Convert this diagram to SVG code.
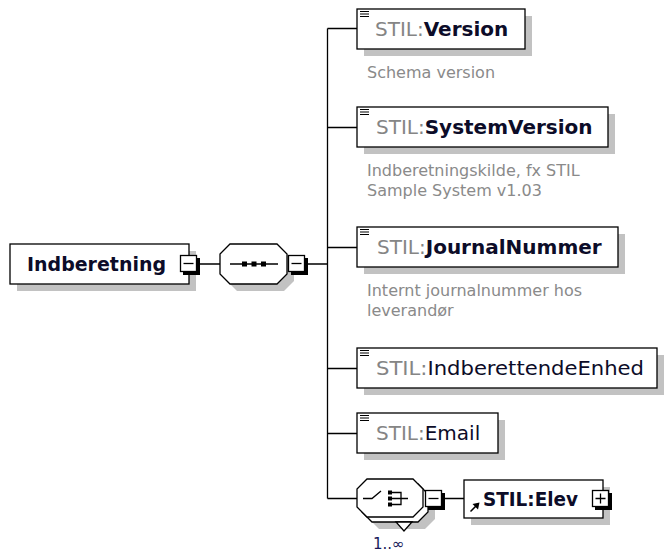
<svg xmlns="http://www.w3.org/2000/svg" xmlns:xlink="http://www.w3.org/1999/xlink" width="665" height="553" viewBox="0 0 665 553">
<style>
.box{fill:#fff;stroke:#000;stroke-width:1.3}
.sh{fill:#c2c2c2}
.ln{stroke:#000;stroke-width:1.3;fill:none}
.lbl{font-family:"DejaVu Sans",Verdana,sans-serif;font-size:20px;fill:#0c0c28}
.pre{fill:#858585}
.b{font-weight:bold}
.desc{font-family:"DejaVu Sans",Verdana,sans-serif;font-size:16px;fill:#8a8a8a}
</style>
<defs>
<g id="eicon"><path d="M0 0.5h9M0 3h9M0 5.5h9" stroke="#000" stroke-width="1.2"/></g>
<g id="minus"><rect x="3" y="3" width="17" height="17" fill="#000"/><rect x="0.5" y="0.5" width="16" height="16" fill="#fff" stroke="#000" stroke-width="1.3"/><path d="M3.5 8.5h10" stroke="#000" stroke-width="1.3"/></g>
<g id="plus"><rect x="3" y="3" width="17" height="17" fill="#000"/><rect x="0.5" y="0.5" width="16" height="16" fill="#fff" stroke="#000" stroke-width="1.3"/><path d="M3.5 8.5h10M8.5 3.5v10" stroke="#000" stroke-width="1.3"/></g>
</defs>

<g id="connectors">
<path class="ln" d="M200 264H220M308 264H327.5M327.5 28.5V498.5M327.5 28.5H357M327.5 127.5H357M327.5 247.5H357M327.5 368.5H357M327.5 433.5H357M327.5 498.5H357M445 498.5H464"/>
</g>

<g id="indberetning">
<rect class="sh" x="17" y="251" width="179" height="40"/>
<rect class="box" x="10" y="244" width="179" height="40"/>
<text class="lbl b" x="27" y="271" font-size="19" textLength="139" lengthAdjust="spacingAndGlyphs">Indberetning</text>
<use xlink:href="#minus" x="180" y="255"/>
</g>

<g id="sequence">
<polygon class="sh" points="237,251 284,251 294,261 294,281 284,291 237,291 227,281 227,261"/>
<polygon class="box" points="230,244 277,244 287,254 287,274 277,284 230,284 220,274 220,254"/>
<path class="ln" d="M230 264H278"/>
<rect x="242" y="261.5" width="5" height="5" fill="#000"/>
<rect x="251.5" y="261.5" width="5" height="5" fill="#000"/>
<rect x="261" y="261.5" width="5" height="5" fill="#000"/>
<use xlink:href="#minus" x="288" y="255"/>
</g>

<g id="version">
<rect class="sh" x="364" y="16" width="168" height="40"/>
<rect class="box" x="357" y="9" width="168" height="40"/>
<use xlink:href="#eicon" x="360" y="11"/>
<text class="lbl" x="375" y="36"><tspan class="pre">STIL:</tspan><tspan class="b">Version</tspan></text>
<text class="desc" x="367" y="78">Schema version</text>
</g>

<g id="systemversion">
<rect class="sh" x="364" y="114" width="251" height="40"/>
<rect class="box" x="357" y="107" width="251" height="40"/>
<use xlink:href="#eicon" x="360" y="109"/>
<text class="lbl" x="376" y="134"><tspan class="pre">STIL:</tspan><tspan class="b">SystemVersion</tspan></text>
<text class="desc" x="367" y="176">Indberetningskilde, fx STIL</text>
<text class="desc" x="367" y="196">Sample System v1.03</text>
</g>

<g id="journalnummer">
<rect class="sh" x="364" y="234" width="261" height="40"/>
<rect class="box" x="357" y="227" width="261" height="40"/>
<use xlink:href="#eicon" x="360" y="229"/>
<text class="lbl" x="377" y="254"><tspan class="pre">STIL:</tspan><tspan class="b">JournalNummer</tspan></text>
<text class="desc" x="367" y="296">Internt journalnummer hos</text>
<text class="desc" x="367" y="316">leverandør</text>
</g>

<g id="indberettendeenhed">
<rect class="sh" x="364" y="355" width="300" height="40"/>
<rect class="box" x="357" y="348" width="300" height="40"/>
<use xlink:href="#eicon" x="360" y="350"/>
<text class="lbl" x="376" y="375" textLength="268" lengthAdjust="spacingAndGlyphs"><tspan class="pre">STIL:</tspan><tspan>IndberettendeEnhed</tspan></text>
</g>

<g id="email">
<rect class="sh" x="364" y="420" width="141" height="40"/>
<rect class="box" x="357" y="413" width="141" height="40"/>
<use xlink:href="#eicon" x="360" y="415"/>
<text class="lbl" x="376" y="440"><tspan class="pre">STIL:</tspan><tspan>Email</tspan></text>
</g>

<g id="choice">
<polygon class="sh" points="379,491 425,491 435,501 435,519 425,529 379,529 369,519 369,501"/>
<polygon class="box" points="372,484 418,484 428,494 428,512 418,522 372,522 362,512 362,494"/>
<polygon class="box" points="367,479 413,479 423,489 423,507 413,517 367,517 357,507 357,489"/>
<polygon class="box" points="396,522 412,522 404,531"/>
<path class="ln" d="M363 498.5H372L381 491"/>
<rect x="388" y="490.5" width="4" height="4" fill="#000"/>
<rect x="388" y="496.5" width="4" height="4" fill="#000"/>
<rect x="388" y="502.5" width="4" height="4" fill="#000"/>
<path class="ln" d="M392 492.5H401V504.5H392M392 498.5H408"/>
<use xlink:href="#minus" x="425" y="490"/>
<text x="373" y="549" font-family="DejaVu Sans,Verdana,sans-serif" font-size="15" fill="#1a1a5a">1..∞</text>
</g>

<g id="elev">
<rect class="sh" x="471" y="487" width="139" height="38"/>
<rect class="box" x="464" y="480" width="139" height="38"/>
<path d="M470.5 511.5L476 506" stroke="#000" stroke-width="1.5"/>
<polygon points="479.5,502.5 472.5,504 478,509.5" fill="#000"/>
<text class="lbl b" x="483" y="506" font-size="19" textLength="95" lengthAdjust="spacingAndGlyphs">STIL:Elev</text>
<use xlink:href="#plus" x="592" y="490"/>
</g>
</svg>
